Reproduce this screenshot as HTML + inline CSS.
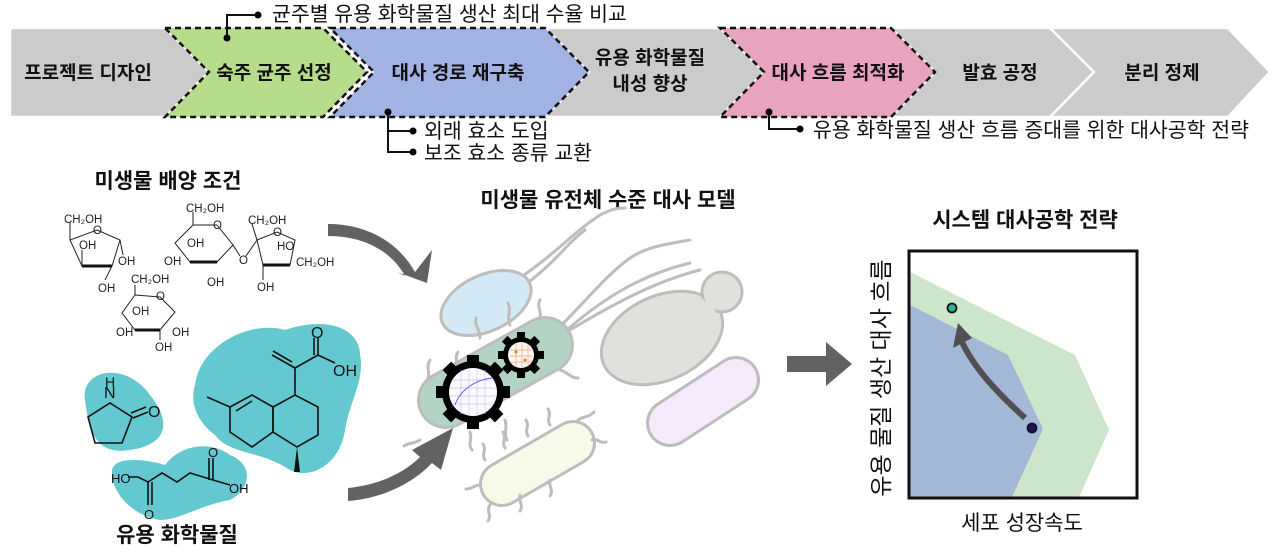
<!DOCTYPE html>
<html><head><meta charset="utf-8"><style>
html,body{margin:0;padding:0;background:#fff;}
svg{display:block;font-family:"Liberation Sans","Noto Sans CJK KR",sans-serif;}
.b{font-weight:bold;font-size:19px;fill:#111;}
.t{font-weight:bold;font-size:21px;fill:#111;}
.c{font-size:20.5px;fill:#111;}
.ch{font-size:11.5px;fill:#222;}
.m{fill:none;stroke:#222;stroke-width:1;}
.k{fill:none;stroke:#111;stroke-width:2;}
.fl{fill:none;stroke:#bdbdbd;stroke-width:3;stroke-linecap:round;}
</style></head><body>
<svg width="1280" height="553" viewBox="0 0 1280 553">
<!-- banner -->
<g stroke="#fff" stroke-width="2.5">
<polygon points="10,28 165,28 209,72 165,117 10,117" fill="#cbcbcb"/>
<polygon points="545,28 720,28 764,72 720,117 545,117 589,72" fill="#cbcbcb"/>
<polygon points="891,28 1050,28 1094,72 1050,117 891,117 935,72" fill="#cbcbcb"/>
<polygon points="1050,28 1228,28 1270,72 1228,117 1050,117 1094,72" fill="#cbcbcb"/>
</g>
<g stroke="#111" stroke-width="2.5" stroke-dasharray="6,4">
<polygon points="165,28 323,28 367,72 323,117 165,117 209,72" fill="#b7dc8c"/>
<polygon points="330,28 545,28 589,72 545,117 330,117 374,72" fill="#a1b2e3"/>
<polygon points="720,28 891,28 935,72 891,117 720,117 764,72" fill="#e8a3bf"/>
</g>
<text class="b" x="88" y="79" text-anchor="middle">프로젝트 디자인</text>
<text class="b" x="274" y="79" text-anchor="middle">숙주 균주 선정</text>
<text class="b" x="458" y="79" text-anchor="middle">대사 경로 재구축</text>
<text class="b" x="650" y="64" text-anchor="middle">유용 화학물질</text>
<text class="b" x="650" y="90" text-anchor="middle">내성 향상</text>
<text class="b" x="838" y="79" text-anchor="middle">대사 흐름 최적화</text>
<text class="b" x="1000" y="79" text-anchor="middle">발효 공정</text>
<text class="b" x="1162" y="79" text-anchor="middle">분리 정제</text>
<!-- callouts -->
<path class="k" d="M227,38 V15 H258" stroke-width="2.5"/><circle cx="227" cy="38" r="3.5"/><circle cx="258" cy="15" r="3.5"/>
<text class="c" x="272" y="21">균주별 유용 화학물질 생산 최대 수율 비교</text>
<path class="k" d="M388,112 V152 H413 M388,131 H413" stroke-width="2.5"/><circle cx="388" cy="112" r="3.5"/><circle cx="413" cy="131" r="3.5"/><circle cx="413" cy="152" r="3.5"/>
<text class="c" x="424" y="138">외래 효소 도입</text>
<text class="c" x="424" y="160">보조 효소 종류 교환</text>
<path class="k" d="M769,112 V129 H800" stroke-width="2.5"/><circle cx="769" cy="112" r="3.5"/><circle cx="800" cy="129" r="3.5"/>
<text class="c" x="813" y="137">유용 화학물질 생산 흐름 증대를 위한 대사공학 전략</text>

<text class="t" x="168" y="188" text-anchor="middle">미생물 배양 조건</text>
<!-- sugars -->
<g class="m">
<polygon points="97,230 120,240 112,266 82,266 70,240"/>
<line x1="70" y1="240" x2="70" y2="222"/><line x1="82" y1="266" x2="82" y2="250"/><line x1="112" y1="266" x2="105" y2="280"/><line x1="120" y1="240" x2="123" y2="255"/>
<polygon points="193,225 217,225 233,245 217,262 190,262 175,243"/>
<line x1="193" y1="225" x2="193" y2="212"/><line x1="233" y1="245" x2="240" y2="256"/><line x1="246" y1="256" x2="257" y2="240"/>
<polygon points="257,240 277,232 295,240 290,265 263,265"/>
<line x1="257" y1="240" x2="252" y2="224"/><line x1="263" y1="265" x2="263" y2="280"/>
<polygon points="135,295 160,297 175,312 160,330 135,330 122,313"/>
<line x1="135" y1="295" x2="135" y2="285"/><line x1="160" y1="330" x2="160" y2="340"/>
</g>
<g stroke="#111" stroke-width="3"><line x1="82" y1="266" x2="112" y2="266"/><line x1="190" y1="262" x2="217" y2="262"/><line x1="263" y1="265" x2="290" y2="265"/><line x1="135" y1="330" x2="160" y2="330"/></g>
<g class="ch">
<text x="64" y="223">CH₂OH</text><text x="93" y="234">O</text><text x="79" y="249">OH</text><text x="118" y="265">OH</text><text x="98" y="292">OH</text>
<text x="186" y="212">CH₂OH</text><text x="213" y="229">O</text><text x="187" y="247">OH</text><text x="164" y="265">OH</text><text x="207" y="286">OH</text><text x="239" y="264">O</text>
<text x="248" y="224">CH₂OH</text><text x="273" y="236">O</text><text x="277" y="250">HO</text><text x="296" y="266">CH₂OH</text><text x="257" y="291">OH</text>
<text x="131" y="283">CH₂OH</text><text x="156" y="300">O</text><text x="132" y="315">OH</text><text x="116" y="336">OH</text><text x="172" y="336">OH</text><text x="155" y="351">OH</text>
</g>
<!-- teal blobs -->
<g fill="#63c8cf">
<path d="M85,400 C80,370 125,360 150,395 C170,420 168,440 140,448 C100,458 90,440 85,400Z"/>
<path d="M195,385 C200,345 250,320 285,330 C330,315 360,330 360,355 C365,380 350,400 345,430 C340,465 310,480 290,470 C260,450 230,455 215,435 C195,420 190,400 195,385Z"/>
<path d="M112,470 C115,455 150,460 165,465 C180,445 210,440 230,455 C255,465 250,490 230,500 C200,505 180,520 160,520 C130,515 110,490 112,470Z"/>
</g>
<g fill="none" stroke="#111" stroke-width="1.6">
<polygon points="110,403 132,417 122,443 95,443 88,417"/><line x1="133" y1="418" x2="148" y2="412"/><line x1="131" y1="413" x2="146" y2="407"/>
<polygon points="230,407 252,395 273,407 273,432 252,447 230,432"/><polygon points="273,407 295,395 318,407 318,435 297,447 273,432"/>
<line x1="230" y1="407" x2="207" y2="397"/><line x1="236" y1="411" x2="252" y2="401"/>
<line x1="295" y1="395" x2="295" y2="368"/><line x1="295" y1="368" x2="272" y2="355"/><line x1="292" y1="362" x2="273" y2="351"/>
<line x1="295" y1="368" x2="318" y2="355"/><line x1="318" y1="355" x2="318" y2="338"/><line x1="314" y1="355" x2="314" y2="338"/><line x1="318" y1="355" x2="335" y2="363"/>
<polyline points="128,477 138,477 148,482 162,473 177,482 190,473 213,480 230,485"/>
<line x1="148" y1="482" x2="148" y2="505"/><line x1="152" y1="482" x2="152" y2="505"/><line x1="213" y1="480" x2="213" y2="458"/><line x1="209" y1="480" x2="209" y2="458"/>
</g>
<polygon points="297,447 294,472 300,472" fill="#111"/>
<g font-size="16" fill="#111"><text x="104" y="398">N</text><text x="105" y="387" font-size="14">H</text><text x="148" y="417">O</text>
<text x="311" y="338">O</text><text x="333" y="376">OH</text>
<text x="111" y="483" font-size="13">HO</text><text x="144" y="519" font-size="13">O</text><text x="208" y="457" font-size="13">O</text><text x="229" y="493" font-size="13">OH</text></g>
<text class="t" x="177" y="542" text-anchor="middle">유용 화학물질</text>

<!-- curved arrows -->
<path d="M328,224 C370,224 400,245 415,272 L432,250 L427,283 L397,272 L405,276 C392,252 365,236 328,236Z" fill="#626262"/>
<path d="M348,488 C380,485 405,472 420,457 L412,450 L453,428 L441,470 L432,463 C414,482 385,498 348,501Z" fill="#626262"/>
<path d="M787,356 H826 V342 L852,364 L826,386 V372 H787Z" fill="#626262"/>

<text class="t" x="608" y="207" text-anchor="middle">미생물 유전체 수준 대사 모델</text>
<!-- flagella -->
<g class="fl">
<path d="M520,278 C560,250 570,235 600,215 C610,210 615,208 625,208"/>
<path d="M525,285 C560,258 565,245 585,230"/>
<path d="M545,340 C580,310 600,280 630,258 C645,248 660,245 690,240"/>
<path d="M560,336 C600,300 640,275 690,263"/>
<path d="M570,330 C620,300 660,280 700,270"/>
</g>
<!-- cells -->
<ellipse cx="486" cy="303" rx="48" ry="28" transform="rotate(-25 486 303)" fill="#d3e9f5" stroke="#bdbdbd" stroke-width="3"/>
<line x1="670" y1="423" x2="736" y2="380" stroke="#bdbdbd" stroke-width="48" stroke-linecap="round"/>
<line x1="670" y1="423" x2="736" y2="380" stroke="#f5eafb" stroke-width="42" stroke-linecap="round"/>
<ellipse cx="662" cy="338" rx="64" ry="42" transform="rotate(-25 662 338)" fill="#e2e0dd" stroke="#bdbdbd" stroke-width="3"/>
<circle cx="722" cy="292" r="20" fill="#e2e0dd" stroke="#bdbdbd" stroke-width="3"/>
<ellipse cx="662" cy="338" rx="60" ry="38" transform="rotate(-25 662 338)" fill="#e2e0dd"/>
<line x1="446" y1="400" x2="545" y2="345" stroke="#bdbdbd" stroke-width="58" stroke-linecap="round"/>
<line x1="446" y1="400" x2="545" y2="345" stroke="#b3d3c5" stroke-width="52" stroke-linecap="round"/>
<line x1="502" y1="484" x2="573" y2="443" stroke="#bdbdbd" stroke-width="46" stroke-linecap="round"/>
<line x1="502" y1="484" x2="573" y2="443" stroke="#f6fbe9" stroke-width="40" stroke-linecap="round"/>
<g class="fl" stroke-width="2.5">
<path d="M430,360 c-5,8 2,15 -4,22"/><path d="M458,352 c-5,8 3,14 -2,20"/><path d="M480,338 c0,-10 -6,-12 -4,-20"/><path d="M510,325 c-4,-8 2,-14 -2,-22"/><path d="M540,318 c2,-8 -4,-12 0,-18"/><path d="M470,432 c3,8 -3,12 2,18"/><path d="M505,420 c3,8 -2,14 2,20"/><path d="M560,370 c8,2 10,8 18,8"/><path d="M420,440 c-6,4 -10,2 -16,6"/>
<path d="M485,460 c-4,-6 2,-10 -2,-16"/><path d="M505,448 c-4,-6 2,-10 -2,-16"/><path d="M528,436 c-4,-6 2,-10 -2,-16"/><path d="M550,425 c-4,-6 2,-10 -2,-16"/><path d="M578,420 c6,-4 10,-2 16,-8"/><path d="M592,440 c6,-2 8,4 14,2"/><path d="M490,505 c-4,6 2,10 -2,16"/><path d="M520,495 c-2,6 4,10 0,16"/><path d="M550,480 c-2,6 4,10 0,16"/><path d="M480,485 c-6,0 -8,4 -14,4"/>
</g>
<!-- gears -->
<g>
<circle cx="473" cy="392" r="31" fill="#000"/>
<g fill="#000"><rect x="467" y="355" width="12" height="74"/><rect x="436" y="386" width="74" height="12"/><rect x="467" y="355" width="12" height="74" transform="rotate(45 473 392)"/><rect x="467" y="355" width="12" height="74" transform="rotate(-45 473 392)"/></g>
<circle cx="473" cy="392" r="24" fill="#fbfbff"/>
<g stroke="#c9c3f0" stroke-width="0.7"><path d="M452,380 H494 M450,388 H496 M450,396 H496 M452,404 H494 M461,370 V414 M469,368 V416 M477,368 V416 M485,370 V414"/></g>
<path d="M455,405 C460,390 475,380 492,378" stroke="#5566dd" fill="none" stroke-width="1"/>
<circle cx="521" cy="355" r="18" fill="#000"/>
<g fill="#000"><rect x="517" y="332" width="8" height="46"/><rect x="498" y="351" width="46" height="8"/><rect x="517" y="332" width="8" height="46" transform="rotate(45 521 355)"/><rect x="517" y="332" width="8" height="46" transform="rotate(-45 521 355)"/></g>
<circle cx="521" cy="355" r="13" fill="#fff8f0"/>
<g stroke="#f0a080" stroke-width="0.7"><path d="M510,350 H532 M510,356 H532 M510,362 H532 M516,344 V366 M522,343 V367 M528,345 V365"/></g>
<circle cx="516" cy="352" r="1.5" fill="#e08020"/><circle cx="525" cy="360" r="1.5" fill="#e08020"/>
</g>

<!-- chart -->
<text class="t" x="1025" y="227" text-anchor="middle">시스템 대사공학 전략</text>
<polygon points="910,272 1075,355 1109,430 1079,497 910,497" fill="#cce5cb"/>
<polygon points="910,305 1008,355 1043,429 1012,497 910,497" fill="#a3b7d6"/>
<rect x="909" y="251" width="228" height="247" fill="none" stroke="#111" stroke-width="3"/>
<path d="M1025,418 C1000,395 975,370 962,342" fill="none" stroke="#505050" stroke-width="6"/>
<polygon points="958,323 953,348 972,338" fill="#505050"/>
<circle cx="952" cy="308" r="4.5" fill="#2bb3a0" stroke="#111" stroke-width="1.8"/>
<circle cx="1032" cy="428" r="4.5" fill="#151560" stroke="#111" stroke-width="1.8"/>
<text font-size="23" fill="#111" transform="translate(889,378) rotate(-90)" text-anchor="middle">유용 물질 생산 대사 흐름</text>
<text font-size="21" fill="#111" x="1022" y="530" text-anchor="middle">세포 성장속도</text>
</svg>
</body></html>
